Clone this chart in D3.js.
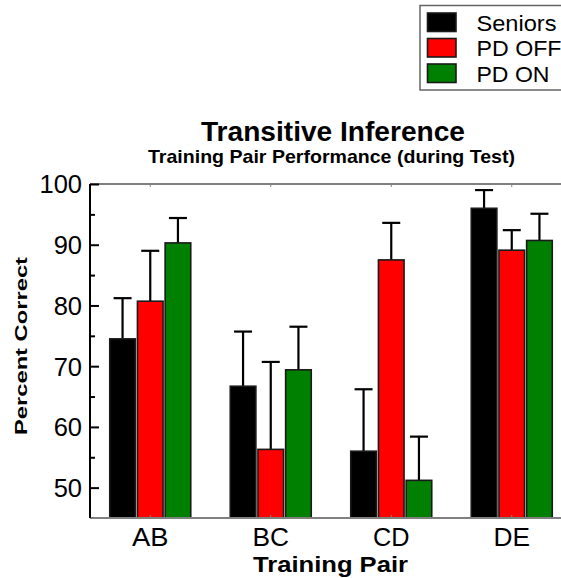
<!DOCTYPE html>
<html>
<head>
<meta charset="utf-8">
<script src="https://cdn.jsdelivr.net/npm/d3@7/dist/d3.min.js"></script>
<style>
  html, body { margin: 0; padding: 0; background: #fff; overflow: hidden; }
  svg { display: block; font-family: "Liberation Sans", Arial, sans-serif; }
</style>
</head>
<body>
<svg id="chart" width="561" height="578"></svg>
<script>
const categories = ["AB", "BC", "CD", "DE"];
const seriesNames = ["Seniors", "PD OFF", "PD ON"];
const seriesColors = ["#000000", "#ff0000", "#008000"];
const seniors = [74.5, 66.7, 56.0, 96.0];
const seniorsErr = [6.7, 9.0, 10.2, 3.0];
const pdOff = [80.7, 56.3, 87.5, 89.1];
const pdOffErr = [8.3, 14.4, 6.1, 3.3];
const pdOn = [90.3, 69.4, 51.2, 90.7];
const pdOnErr = [4.1, 7.1, 7.2, 4.4];
const majorTicks = [50, 60, 70, 80, 90, 100];
const minorTicks = [55, 65, 75, 85, 95];
const yDomain = [45, 100];

const title = "Transitive Inference";
const subtitle = "Training Pair Performance (during Test)";
const xTitle = "Training Pair";
const yTitle = "Percent Correct";

const series = [
  { name: seriesNames[0], color: seriesColors[0], values: seniors, errs: seniorsErr },
  { name: seriesNames[1], color: seriesColors[1], values: pdOff, errs: pdOffErr },
  { name: seriesNames[2], color: seriesColors[2], values: pdOn, errs: pdOnErr }
];

const svg = d3.select("#chart");
const pL = 90, pR = 572, pT = 184, pB = 518;

const x = d3.scaleBand().domain(categories).range([pL, pR]).padding(0);
const sub = d3.scaleBand().domain(seriesNames).range([-40.5, 40.5]).paddingInner(0.075);
const y = d3.scaleLinear().domain(yDomain).range([pB, pT]);

// frame: top gray line
svg.append("line").attr("x1", pL).attr("x2", pR).attr("y1", pT).attr("y2", pT)
  .attr("stroke", "#808080").attr("stroke-width", 2);

// bars
series.forEach((s) => {
  const g = svg.append("g");
  categories.forEach((c, i) => {
    const cx = x(c) + x.bandwidth() / 2;
    const bx = cx + sub(s.name);
    const bw = sub.bandwidth();
    const v = s.values[i];
    const ev = v + s.errs[i];
    g.append("line").attr("x1", bx + bw / 2).attr("x2", bx + bw / 2)
      .attr("y1", y(v)).attr("y2", y(ev)).attr("stroke", "#000").attr("stroke-width", 2.2);
    g.append("line").attr("x1", bx + bw / 2 - 9).attr("x2", bx + bw / 2 + 9)
      .attr("y1", y(ev)).attr("y2", y(ev)).attr("stroke", "#000").attr("stroke-width", 2.2);
    g.append("rect").attr("x", bx).attr("y", y(v)).attr("width", bw).attr("height", y(yDomain[0]) - y(v))
      .attr("fill", s.color).attr("stroke", "#1a1a1a").attr("stroke-width", 1.6);
  });
});

// bottom axis line
svg.append("line").attr("x1", pL).attr("x2", pR).attr("y1", pB).attr("y2", pB)
  .attr("stroke", "#808080").attr("stroke-width", 2);

// category ticks top & bottom
categories.forEach(c => {
  const cx = x(c) + x.bandwidth() / 2;
  svg.append("line").attr("x1", cx).attr("x2", cx).attr("y1", pT).attr("y2", pT + 3)
    .attr("stroke", "#808080").attr("stroke-width", 1);
  svg.append("line").attr("x1", cx).attr("x2", cx).attr("y1", pB).attr("y2", pB - 3)
    .attr("stroke", "#808080").attr("stroke-width", 1);
});

// left axis
const yAxis = d3.axisLeft(y).tickValues(majorTicks).tickSize(-9).tickPadding(0).tickFormat(d3.format("d"));
const ay = svg.append("g").attr("transform", `translate(${pL},0)`).call(yAxis);
ay.select(".domain").attr("stroke", "#000").attr("stroke-width", 2).attr("d", `M0,${pT}V${pB}`);
ay.selectAll(".tick line").attr("stroke", "#000").attr("stroke-width", 2);
ay.selectAll(".tick text").attr("x", -8).attr("dy", "0.35em")
  .attr("font-size", 25.5).attr("fill", "#000").attr("font-family", "Liberation Sans, Arial, sans-serif");
const yMinor = d3.axisLeft(y).tickValues(minorTicks).tickSize(-5).tickFormat("");
const am = svg.append("g").attr("transform", `translate(${pL},0)`).call(yMinor);
am.select(".domain").remove();
am.selectAll(".tick line").attr("stroke", "#000").attr("stroke-width", 2);

// x category labels
const xAxis = d3.axisBottom(x).tickSize(0).tickPadding(0);
const ax = svg.append("g").attr("transform", `translate(0,${pB})`).call(xAxis);
ax.select(".domain").remove();
ax.selectAll(".tick text").attr("y", 28).attr("dy", 0)
  .attr("font-size", 25).attr("fill", "#000").attr("font-family", "Liberation Sans, Arial, sans-serif")
  .attr("textLength", 36.5).attr("lengthAdjust", "spacingAndGlyphs");

// titles
svg.append("text").attr("x", 333).attr("y", 141).attr("text-anchor", "middle")
  .attr("font-size", 27).attr("font-weight", "bold").attr("textLength", 264).attr("lengthAdjust", "spacingAndGlyphs").text(title);
svg.append("text").attr("x", 331.5).attr("y", 163).attr("text-anchor", "middle")
  .attr("font-size", 19).attr("font-weight", "bold").attr("textLength", 367).attr("lengthAdjust", "spacingAndGlyphs").text(subtitle);
svg.append("text").attr("x", 330.5).attr("y", 572).attr("text-anchor", "middle")
  .attr("font-size", 22).attr("font-weight", "bold").attr("textLength", 155).attr("lengthAdjust", "spacingAndGlyphs").text(xTitle);
svg.append("text").attr("transform", "translate(26.5,346) rotate(-90)").attr("text-anchor", "middle")
  .attr("font-size", 16.5).attr("font-weight", "bold").attr("textLength", 178).attr("lengthAdjust", "spacingAndGlyphs").text(yTitle);

// legend
const lg = svg.append("g");
lg.append("rect").attr("x", 420).attr("y", 5.5).attr("width", 160).attr("height", 84.5)
  .attr("fill", "#fff").attr("stroke", "#666").attr("stroke-width", 1.5);
const legendLen = [80, 85, 73];
series.forEach((s, i) => {
  const yy = 13 + i * 25.5;
  lg.append("rect").attr("x", 427.5).attr("y", yy).attr("width", 28.5).attr("height", 18.5)
    .attr("fill", s.color).attr("stroke", "#1a1a1a").attr("stroke-width", 1.6);
  lg.append("text").attr("x", 476.5).attr("y", 30.5 + i * 25.5).attr("font-size", 22)
    .attr("textLength", legendLen[i]).attr("lengthAdjust", "spacingAndGlyphs").text(s.name);
});
</script>
</body>
</html>
